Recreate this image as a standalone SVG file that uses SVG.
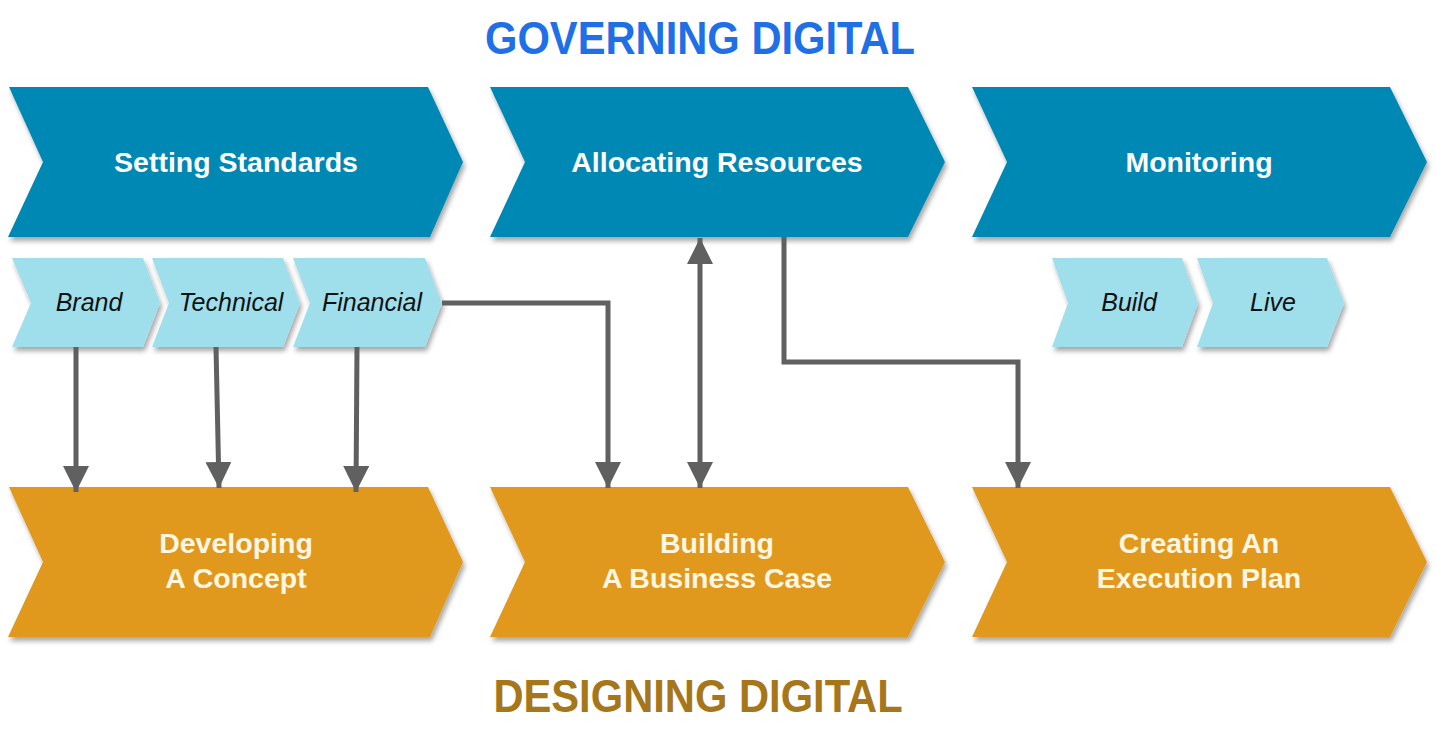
<svg xmlns="http://www.w3.org/2000/svg" width="1436" height="745" viewBox="0 0 1436 745">
<defs>
<style>
.big{fill:#0088b4}
.org{fill:#e0991b}
.lt{fill:#9fdfec}
.bt{font-family:"Liberation Sans",Arial,sans-serif;font-weight:bold;font-size:28.5px;text-anchor:middle}
.wt{fill:#ffffff}
.ct{fill:#fff6e4}
.it{font-family:"Liberation Sans",Arial,sans-serif;font-style:italic;font-size:25px;fill:#111;text-anchor:middle}
.ttl{font-family:"Liberation Sans",Arial,sans-serif;font-weight:bold;font-size:41.7px;text-anchor:middle}
.cn{fill:none;stroke:#606060;stroke-width:5}
</style>
<filter id="sh" x="-5%" y="-10%" width="115%" height="130%">
<feDropShadow dx="2" dy="4" stdDeviation="2.5" flood-color="#000" flood-opacity="0.35"/>
</filter>
<marker id="ah" markerUnits="userSpaceOnUse" markerWidth="26" markerHeight="26" viewBox="0 0 24 24" refX="24" refY="12" orient="auto-start-reverse">
<path d="M0,0 L24,12 L0,24 Z" fill="#606060"/>
</marker>
</defs>
<rect width="1436" height="745" fill="#ffffff"/>

<g id="title-governing"><text class="ttl" fill="#1f6fe6" transform="translate(700,54) scale(1,1.13)">GOVERNING DIGITAL</text></g>
<g id="title-designing"><text class="ttl" fill="#a6761a" transform="translate(698,712) scale(1,1.13)">DESIGNING DIGITAL</text></g>

<g id="setting-standards"><path class="big" filter="url(#sh)" d="M9,87 H428 L463,162 L430,237 H8 L43,162 Z"/><text class="bt wt" x="236" y="172">Setting Standards</text></g>
<g id="allocating-resources"><path class="big" filter="url(#sh)" d="M490,87 H908 L945,162 L908,237 H490 L525,162 Z"/><text class="bt wt" x="717" y="172">Allocating Resources</text></g>
<g id="monitoring"><path class="big" filter="url(#sh)" d="M972,87 H1390 L1427,162 L1390,237 H972 L1007,162 Z"/><text class="bt wt" x="1199" y="172">Monitoring</text></g>

<g id="brand"><path class="lt" filter="url(#sh)" d="M12,258 H143 L160,303 L143,347 H12 L31,303 Z"/><text class="it" x="89" y="311">Brand</text></g>
<g id="technical"><path class="lt" filter="url(#sh)" d="M152,258 H283 L300,303 L283,347 H152 L169,303 Z"/><text class="it" x="231" y="311">Technical</text></g>
<g id="financial"><path class="lt" filter="url(#sh)" d="M293,258 H425 L442,303 L425,347 H293 L310,303 Z"/><text class="it" x="372" y="311">Financial</text></g>
<g id="build"><path class="lt" filter="url(#sh)" d="M1052,258 H1182 L1198,303 L1182,347 H1052 L1068,303 Z"/><text class="it" x="1129" y="311">Build</text></g>
<g id="live"><path class="lt" filter="url(#sh)" d="M1197,258 H1327 L1344,303 L1327,347 H1197 L1213,303 Z"/><text class="it" x="1273" y="311">Live</text></g>

<g id="developing-concept"><path class="org" filter="url(#sh)" d="M9,487 H428 L463,562 L430,637 H8 L43,562 Z"/><text class="bt ct" x="236" y="553">Developing</text><text class="bt ct" x="236" y="588">A Concept</text></g>
<g id="building-business-case"><path class="org" filter="url(#sh)" d="M490,487 H908 L945,562 L908,637 H490 L525,562 Z"/><text class="bt ct" x="717" y="553">Building</text><text class="bt ct" x="717" y="588">A Business Case</text></g>
<g id="creating-execution-plan"><path class="org" filter="url(#sh)" d="M972,487 H1390 L1427,562 L1390,637 H972 L1007,562 Z"/><text class="bt ct" x="1199" y="553">Creating An</text><text class="bt ct" x="1199" y="588">Execution Plan</text></g>

<g id="connectors">
<path class="cn" marker-end="url(#ah)" d="M76,347 V492"/>
<path class="cn" marker-end="url(#ah)" d="M216,347 L219,488"/>
<path class="cn" marker-end="url(#ah)" d="M357,347 L356,492"/>
<path class="cn" marker-end="url(#ah)" d="M442,303 H608 V488"/>
<path class="cn" marker-start="url(#ah)" marker-end="url(#ah)" d="M700,238 V488"/>
<path class="cn" marker-end="url(#ah)" d="M784,237 V362 H1018 V488"/>
</g>
</svg>
